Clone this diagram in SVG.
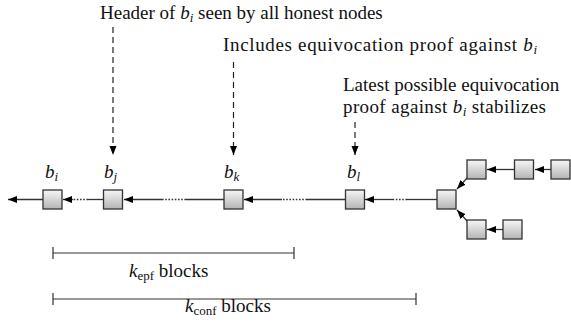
<svg xmlns="http://www.w3.org/2000/svg" width="571" height="325" viewBox="0 0 571 325">
<defs>
<linearGradient id="g" x1="0" y1="0" x2="0" y2="1">
<stop offset="0" stop-color="#f6f6f6"/>
<stop offset="1" stop-color="#b4b4b4"/>
</linearGradient>
<marker id="ah" markerUnits="userSpaceOnUse" markerWidth="10" markerHeight="8" refX="9" refY="3.5" orient="auto">
<path d="M0,0 L9,3.5 L0,7 z" fill="#000"/>
</marker>
</defs>
<style>
.blk{fill:url(#g);stroke:#333;stroke-width:1.3}
.ln{stroke:#333;stroke-width:1.3;fill:none}
.dot{stroke:#333;stroke-width:1.3;fill:none;stroke-dasharray:1.6 1.6}
.dsh{stroke:#222;stroke-width:1.2;fill:none;stroke-dasharray:6 4}
.br{stroke:#333;stroke-width:1.2;fill:none}
text{font-family:"Liberation Serif","DejaVu Serif",serif;fill:#111}
.t{font-size:19px}
.m{font-size:19px;font-style:italic}
.s{font-size:13px;font-style:italic}
.u{font-size:13px}
.i{font-style:italic}
</style>
<g id="labels">
<text class="t" x="100" y="19">Header of <tspan class="i">b</tspan><tspan class="s" dy="3">i</tspan><tspan dy="-3"> seen by all honest nodes</tspan></text>
<text class="t" x="223" y="51" textLength="314" lengthAdjust="spacing">Includes equivocation proof against <tspan class="i">b</tspan><tspan class="s" dy="3">i</tspan></text>
<text class="t" x="343" y="91">Latest possible equivocation</text>
<text class="t" x="343" y="113" textLength="203" lengthAdjust="spacing">proof against <tspan class="i">b</tspan><tspan class="s" dy="3">i</tspan><tspan dy="-3"> stabilizes</tspan></text>
</g>
<g id="connectors">
<line class="dsh" x1="113" y1="27" x2="113" y2="155" marker-end="url(#ah)"/>
<line class="dsh" x1="233.5" y1="62" x2="233.5" y2="155" marker-end="url(#ah)"/>
<line class="dsh" x1="355" y1="122" x2="355" y2="155" marker-end="url(#ah)"/>
<line class="ln" x1="43" y1="199.5" x2="8" y2="199.5" marker-end="url(#ah)"/>
<line class="ln" x1="103" y1="199.5" x2="88" y2="199.5"/>
<line class="dot" x1="88" y1="199.5" x2="73" y2="199.5"/>
<line class="ln" x1="73" y1="199.5" x2="63" y2="199.5" marker-end="url(#ah)"/>
<line class="ln" x1="224" y1="199.5" x2="186" y2="199.5"/>
<line class="dot" x1="186" y1="199.5" x2="162" y2="199.5"/>
<line class="ln" x1="162" y1="199.5" x2="124" y2="199.5" marker-end="url(#ah)"/>
<line class="ln" x1="346" y1="199.5" x2="307" y2="199.5"/>
<line class="dot" x1="307" y1="199.5" x2="282" y2="199.5"/>
<line class="ln" x1="282" y1="199.5" x2="244" y2="199.5" marker-end="url(#ah)"/>
<line class="ln" x1="437" y1="199.5" x2="407" y2="199.5"/>
<line class="dot" x1="407" y1="199.5" x2="393" y2="199.5"/>
<line class="ln" x1="393" y1="199.5" x2="365" y2="199.5" marker-end="url(#ah)"/>
<line class="ln" x1="468" y1="177" x2="457" y2="189" marker-end="url(#ah)"/>
<line class="ln" x1="468" y1="222" x2="457" y2="210" marker-end="url(#ah)"/>
<line class="ln" x1="514" y1="169.5" x2="487" y2="169.5" marker-end="url(#ah)"/>
<line class="ln" x1="551" y1="169.5" x2="535" y2="169.5" marker-end="url(#ah)"/>
<line class="ln" x1="503" y1="229.5" x2="487" y2="229.5" marker-end="url(#ah)"/>
</g>
<g id="b_i"><rect class="blk" x="43" y="190" width="19" height="19"/><text class="m" x="45" y="178">b<tspan class="s" dy="3">i</tspan></text></g>
<g id="b_j"><rect class="blk" x="103.5" y="190" width="19" height="19"/><text class="m" x="104" y="178">b<tspan class="s" dy="3">j</tspan></text></g>
<g id="b_k"><rect class="blk" x="224" y="190" width="19" height="19"/><text class="m" x="224" y="178">b<tspan class="s" dy="3">k</tspan></text></g>
<g id="b_l"><rect class="blk" x="345.5" y="190" width="19" height="19"/><text class="m" x="347" y="178">b<tspan class="s" dy="3">l</tspan></text></g>
<g id="fork"><rect class="blk" x="437" y="190" width="19" height="19"/></g>
<g id="up1"><rect class="blk" x="467" y="160" width="19" height="19"/></g>
<g id="up2"><rect class="blk" x="514.5" y="160" width="19" height="19"/></g>
<g id="up3"><rect class="blk" x="551" y="160" width="19" height="19"/></g>
<g id="lo1"><rect class="blk" x="467" y="220" width="19" height="19"/></g>
<g id="lo2"><rect class="blk" x="503" y="220" width="19" height="19"/></g>
<g id="spans">
<path class="br" d="M53,253 H294 M53,247 V259 M294,247 V259"/>
<text class="t" x="129" y="277"><tspan class="i">k</tspan><tspan class="u" dy="3">epf</tspan><tspan dy="-3"> blocks</tspan></text>
<path class="br" d="M53,299 H416 M53,293 V305 M416,293 V305"/>
<text class="t" x="185" y="312"><tspan class="i">k</tspan><tspan class="u" dy="3">conf</tspan><tspan dy="-3"> blocks</tspan></text>
</g>
</svg>
